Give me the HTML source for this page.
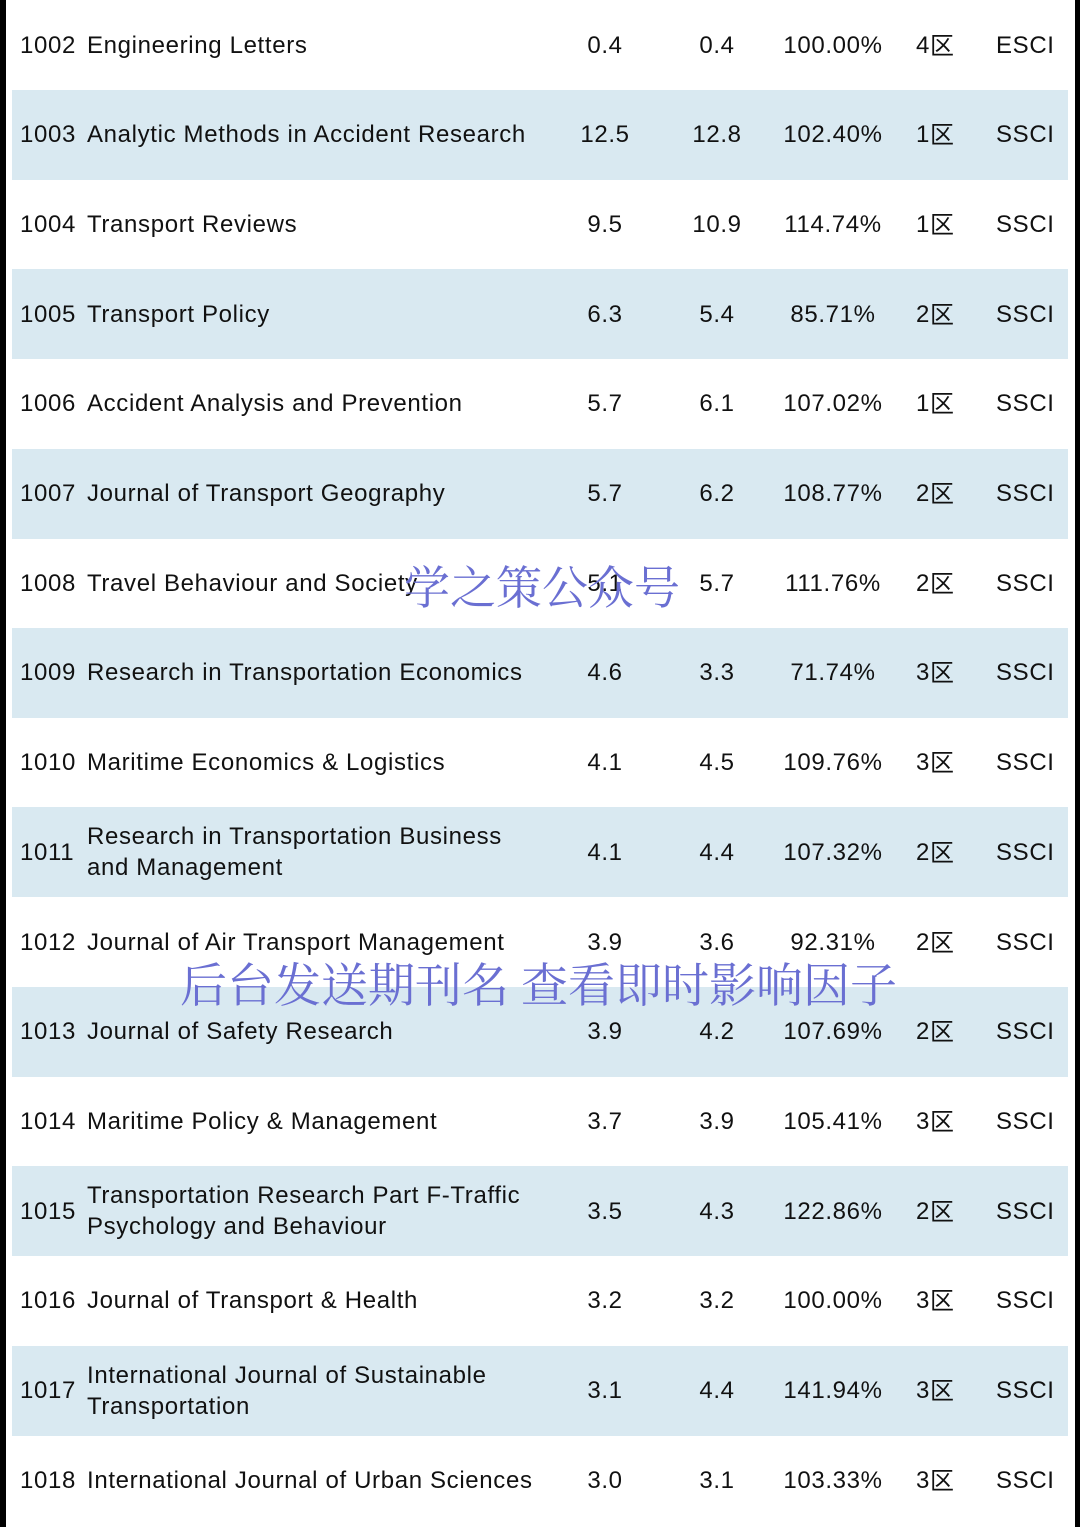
<!DOCTYPE html>
<html><head><meta charset="utf-8"><style>
html,body{margin:0;padding:0;background:#fff;}
#page{position:relative;width:1080px;height:1527px;overflow:hidden;background:#fff;font-family:"Liberation Sans","Noto Sans CJK SC",sans-serif;color:#111;}
.lb{position:absolute;left:0;top:0;width:6px;height:1527px;background:#000;}
.rb{position:absolute;left:1075px;top:0;width:5px;height:1527px;background:#000;}
.row{position:absolute;left:12px;width:1056px;height:90px;}
.row.sh{background:#d9e9f1;}
.c{position:absolute;top:0;height:90px;display:flex;align-items:center;font-size:24px;line-height:31px;white-space:nowrap;letter-spacing:0.65px;}
.wm{position:absolute;font-family:"Noto Serif CJK SC",serif;color:#6a6fd2;font-size:46px;white-space:nowrap;line-height:1;}
.z{font-family:"Noto Sans CJK SC",sans-serif;position:relative;top:-2px;}
</style></head><body>
<div id="page">
<div class="lb"></div>
<div class="rb"></div>
</div>
<script>
const ids=["1002","1003","1004","1005","1006","1007","1008","1009","1010","1011","1012","1013","1014","1015","1016","1017","1018"];
const names=["Engineering Letters","Analytic Methods in Accident Research","Transport Reviews","Transport Policy","Accident Analysis and Prevention","Journal of Transport Geography","Travel Behaviour and Society","Research in Transportation Economics","Maritime Economics & Logistics","Research in Transportation Business<br>and Management","Journal of Air Transport Management","Journal of Safety Research","Maritime Policy & Management","Transportation Research Part F-Traffic<br>Psychology and Behaviour","Journal of Transport & Health","International Journal of Sustainable<br>Transportation","International Journal of Urban Sciences"];
const ifPrev=["0.4","12.5","9.5","6.3","5.7","5.7","5.1","4.6","4.1","4.1","3.9","3.9","3.7","3.5","3.2","3.1","3.0"];
const ifNow=["0.4","12.8","10.9","5.4","6.1","6.2","5.7","3.3","4.5","4.4","3.6","4.2","3.9","4.3","3.2","4.4","3.1"];
const ratio=["100.00%","102.40%","114.74%","85.71%","107.02%","108.77%","111.76%","71.74%","109.76%","107.32%","92.31%","107.69%","105.41%","122.86%","100.00%","141.94%","103.33%"];
const zone=["4区","1区","1区","2区","1区","2区","2区","3区","3区","2区","2区","2区","3区","2区","3区","3区","3区"];
const idx=["ESCI","SSCI","SSCI","SSCI","SSCI","SSCI","SSCI","SSCI","SSCI","SSCI","SSCI","SSCI","SSCI","SSCI","SSCI","SSCI","SSCI"];
const page=document.getElementById('page');
const RH=89.7;
function cell(row,html,left,width,align,name){
  const d=document.createElement('div');
  d.className='c';
  d.style.left=left+'px';
  if(width){d.style.width=width+'px';d.style.justifyContent=align;}
  d.innerHTML=html;
  
  
  row.appendChild(d);
}
ids.forEach((id,i)=>{
  const r=document.createElement('div');
  r.className='row'+(i%2===1?' sh':'');
  r.style.top=(i*RH)+'px';
  
  
  cell(r,id,8,null,null,'journal-id');
  cell(r,names[i],75,null,null,'journal-name');
  cell(r,ifPrev[i],543,100,'center','if-previous');
  cell(r,ifNow[i],655,100,'center','if-current');
  cell(r,ratio[i],761,120,'center','growth-ratio');
  cell(r,zone[i].replace('区','<span class="z">区</span>'),904,null,null,'zone');
  cell(r,idx[i],984,null,null,'index-type');
  page.appendChild(r);
});
</script>
<script>
const p=document.getElementById('page');
const w1=document.createElement('div');
w1.className='wm';w1.style.left='404px';w1.style.top='562px';w1.textContent='学之策公众号';


p.appendChild(w1);
const w2=document.createElement('div');
w2.className='wm';w2.style.left='180px';w2.style.top='959px';w2.style.fontSize='47px';w2.textContent='后台发送期刊名 查看即时影响因子';


p.appendChild(w2);
</script>
</body></html>
